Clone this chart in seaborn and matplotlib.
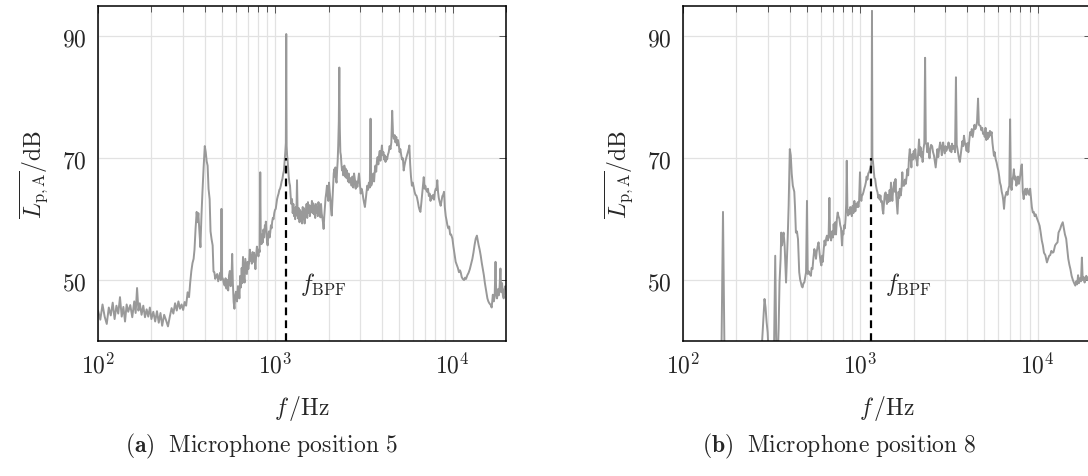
import numpy as np
import pandas as pd
import seaborn as sns
import matplotlib
matplotlib.use('Agg')
import matplotlib.pyplot as plt
from matplotlib.ticker import LogLocator, NullFormatter

# spectrum, microphone position 5  (f in Hz, level in dB(A))
freq_a = [100, 103, 106, 109, 112, 115, 118, 121, 124, 127, 130, 133, 136, 139, 142, 145, 148, 152, 156, 160,
          163, 166, 169, 172, 176, 180, 184, 188, 192, 196, 200, 205, 210, 215, 220, 225, 230, 236, 242, 248,
          254, 260, 266, 272, 278, 284, 290, 296, 302, 308, 314, 320, 326, 331, 336, 341, 346, 350, 355, 360,
          364, 368, 373, 378, 383, 388, 394, 400, 405, 410, 415, 420, 426, 431, 437, 443, 448, 453, 458, 464,
          470, 476, 482, 488, 493, 497, 501, 506, 512, 518, 524, 530, 536, 542, 548, 554, 560, 566, 571, 576,
          582, 588, 594, 600, 608, 615, 621, 627, 634, 640, 646, 651, 657, 664, 671, 677, 684, 691, 698, 704,
          711, 718, 724, 730, 737, 744, 751, 758, 765, 772, 779, 787, 795, 803, 810, 816, 822, 828, 836, 843,
          850, 857, 865, 873, 880, 884, 891, 898, 905, 913, 920, 928, 936, 944, 952, 960, 968, 977, 986, 995,
          1005, 1014, 1023, 1033, 1043, 1053, 1063, 1074, 1085, 1096, 1107, 1118, 1128, 1138, 1146, 1152, 1158,
          1165, 1172, 1180, 1190, 1200, 1210, 1220, 1231, 1242, 1253, 1264, 1274, 1285, 1294, 1304, 1314, 1325,
          1336, 1347, 1358, 1369, 1380, 1392, 1403, 1415, 1427, 1439, 1451, 1463, 1475, 1487, 1500, 1513, 1527,
          1540, 1553, 1566, 1580, 1594, 1608, 1622, 1636, 1650, 1664, 1678, 1692, 1707, 1722, 1736, 1751, 1766,
          1781, 1796, 1810, 1825, 1840, 1856, 1872, 1888, 1904, 1920, 1938, 1955, 1972, 1990, 2008, 2026, 2044,
          2062, 2080, 2098, 2116, 2134, 2150, 2166, 2182, 2198, 2214, 2230, 2246, 2262, 2280, 2295, 2310, 2326,
          2342, 2360, 2378, 2396, 2414, 2432, 2450, 2470, 2490, 2510, 2530, 2549, 2570, 2590, 2610, 2630, 2662,
          2690, 2720, 2750, 2780, 2810, 2840, 2870, 2902, 2933, 2963, 2995, 3030, 3065, 3097, 3130, 3160, 3200,
          3240, 3270, 3298, 3330, 3370, 3410, 3443, 3470, 3500, 3535, 3570, 3605, 3640, 3670, 3705, 3740, 3775,
          3810, 3845, 3880, 3915, 3950, 3990, 4030, 4070, 4105, 4140, 4182, 4225, 4270, 4315, 4360, 4410, 4460,
          4510, 4560, 4610, 4658, 4710, 4760, 4810, 4860, 4915, 4970, 5020, 5070, 5130, 5180, 5240, 5295, 5350,
          5410, 5470, 5527, 5600, 5650, 5700, 5760, 5820, 5890, 5960, 6030, 6100, 6170, 6240, 6300, 6370, 6440,
          6510, 6580, 6650, 6720, 6800, 6870, 6940, 7010, 7090, 7180, 7260, 7340, 7420, 7500, 7590, 7670, 7760,
          7850, 7940, 8030, 8110, 8190, 8270, 8350, 8450, 8560, 8650, 8750, 8840, 8940, 9030, 9140, 9240, 9340,
          9450, 9560, 9680, 9800, 9970, 10100, 10250, 10400, 10550, 10700, 10850, 11000, 11100, 11250, 11400,
          11590, 11750, 11900, 12100, 12300, 12500, 12700, 12920, 13100, 13300, 13490, 13700, 13850, 14000,
          14200, 14400, 14600, 14800, 15000, 15200, 15400, 15700, 15900, 16100, 16400, 16600, 16850, 17050,
          17250, 17450, 17600, 17800, 18000, 18200, 18400, 18600, 18800, 19000, 19200, 19400, 19600, 19800, 20000]
level_a = [45.0, 43.5, 46.0, 44.0, 42.8, 45.5, 44.2, 46.3, 43.6, 45.8, 44.5, 47.2, 44.0, 45.6, 43.2, 46.0, 44.8,
           45.9, 43.9, 46.5, 44.6, 48.7, 45.0, 46.2, 44.3, 45.8, 43.9, 45.2, 44.0, 45.5, 43.6, 44.8, 43.2, 44.9,
           43.0, 44.6, 42.5, 44.3, 43.4, 42.4, 44.0, 45.4, 44.5, 46.2, 45.0, 46.5, 45.3, 46.0, 45.1, 46.4, 45.8,
           48.0, 47.2, 49.6, 51.5, 52.8, 53.5, 55.0, 58.5, 61.2, 59.5, 61.0, 58.0, 55.4, 60.5, 64.4, 68.5, 72.0,
           71.0, 69.5, 68.8, 65.0, 63.3, 58.0, 56.7, 55.7, 51.4, 51.3, 50.2, 50.7, 51.0, 49.8, 50.5, 51.2, 50.0,
           61.7, 50.5, 50.2, 49.5, 49.1, 50.3, 48.6, 50.0, 48.3, 50.8, 51.5, 49.0, 50.5, 54.3, 49.5, 46.4, 45.3,
           47.5, 48.1, 46.5, 49.0, 48.9, 47.0, 50.7, 48.8, 52.0, 49.5, 53.8, 50.6, 49.6, 53.5, 52.2, 51.0, 53.0,
           51.8, 52.8, 55.0, 53.2, 54.1, 52.7, 54.6, 53.0, 54.5, 53.4, 51.8, 54.0, 55.5, 54.8, 53.9, 55.0, 54.6,
           67.7, 56.5, 55.9, 57.5, 56.2, 58.3, 57.0, 59.0, 58.2, 59.6, 57.8, 56.2, 55.7, 57.4, 58.0, 57.0, 57.8,
           59.0, 58.5, 59.6, 60.2, 60.0, 61.0, 61.5, 61.7, 62.5, 63.3, 63.8, 64.2, 64.8, 65.0, 65.5, 66.2, 66.6,
           67.4, 68.0, 69.5, 71.0, 72.5, 90.4, 72.0, 70.5, 69.8, 68.5, 67.0, 66.0, 65.5, 63.8, 62.5, 63.3, 61.0,
           62.5, 60.5, 61.2, 60.0, 62.0, 60.6, 66.4, 60.8, 60.1, 61.8, 59.5, 61.5, 60.3, 61.2, 59.3, 62.0, 60.0,
           61.8, 59.3, 61.5, 60.8, 62.5, 60.2, 62.8, 61.0, 62.3, 60.5, 62.2, 61.2, 63.0, 61.0, 62.6, 60.8, 62.2,
           60.2, 62.5, 61.0, 62.0, 60.5, 62.8, 61.3, 62.0, 60.3, 62.5, 61.0, 60.3, 59.5, 58.4, 60.5, 62.0, 63.5,
           64.4, 65.5, 64.0, 63.0, 66.0, 64.5, 63.3, 61.5, 60.6, 63.0, 65.5, 67.5, 68.2, 67.0, 68.5, 66.5, 66.0,
           68.0, 69.5, 72.0, 76.0, 84.9, 75.0, 71.0, 70.5, 69.0, 68.0, 68.5, 67.2, 67.7, 68.8, 67.0, 68.3, 66.8,
           68.0, 67.0, 66.2, 67.5, 66.0, 66.8, 66.6, 65.5, 67.0, 65.2, 67.5, 66.5, 65.0, 66.2, 65.3, 66.5, 67.5,
           66.0, 64.2, 65.0, 64.5, 63.5, 62.8, 62.0, 63.5, 64.5, 65.5, 64.8, 66.0, 65.2, 76.5, 65.5, 65.8, 66.5,
           67.5, 66.2, 68.0, 68.8, 67.8, 69.5, 70.2, 69.0, 70.5, 71.2, 69.6, 70.8, 72.1, 70.5, 71.0, 69.8, 70.5,
           69.4, 70.2, 69.8, 70.6, 71.0, 72.0, 71.5, 72.6, 77.8, 74.0, 73.2, 73.8, 72.6, 73.5, 72.1, 73.0, 72.2,
           71.0, 71.5, 70.5, 69.8, 70.0, 68.0, 68.8, 69.5, 70.0, 70.5, 71.0, 71.5, 72.1, 69.0, 67.0, 65.5, 66.0,
           65.2, 64.5, 64.0, 63.9, 63.5, 62.8, 62.0, 61.5, 61.2, 62.5, 64.0, 65.5, 66.9, 65.0, 65.5, 64.8, 64.5,
           65.0, 63.8, 64.2, 63.0, 63.8, 63.4, 64.0, 63.2, 64.5, 65.0, 64.8, 66.4, 64.5, 63.5, 62.8, 62.2, 63.0,
           63.8, 64.0, 64.5, 62.0, 60.5, 59.8, 59.0, 58.5, 58.8, 57.5, 57.5, 56.8, 55.5, 54.3, 53.0, 52.5, 52.0,
           51.3, 51.6, 51.3, 50.5, 50.2, 50.0, 50.4, 50.2, 50.8, 51.2, 51.8, 52.6, 53.5, 54.5, 55.8, 56.8, 57.3,
           56.5, 55.8, 55.0, 54.0, 52.8, 51.8, 50.8, 49.5, 48.5, 47.0, 46.5, 46.2, 45.9, 45.5, 47.6, 46.5, 47.2,
           53.0, 48.0, 47.0, 48.5, 47.5, 49.0, 51.9, 48.0, 49.5, 47.5, 47.0, 48.5, 49.0, 48.5]

# spectrum, microphone position 8
freq_b = [100, 106, 112, 118, 124, 130, 136, 142, 148, 154, 160, 164, 168, 172, 178, 185, 192, 200, 208, 216,
          224, 232, 240, 248, 256, 264, 272, 278, 283, 288, 292, 296, 300, 304, 310, 318, 326, 331, 336, 341,
          346, 350, 355, 358, 362, 365, 369, 374, 381, 389, 394, 400, 405, 410, 416, 424, 428, 433, 439, 445,
          452, 458, 462, 467, 472, 478, 483, 489, 494, 500, 505, 510, 517, 526, 531, 537, 543, 550, 557, 562,
          567, 574, 581, 588, 596, 603, 609, 614, 621, 628, 635, 642, 648, 655, 662, 669, 675, 684, 692, 700,
          707, 714, 722, 729, 737, 745, 752, 761, 770, 778, 788, 795, 802, 810, 818, 825, 832, 838, 845, 852,
          860, 868, 877, 886, 895, 905, 914, 925, 937, 948, 957, 966, 975, 984, 995, 1005, 1013, 1021, 1030,
          1040, 1052, 1064, 1075, 1085, 1096, 1108, 1123, 1140, 1150, 1157, 1163, 1169, 1178, 1190, 1200, 1212,
          1225, 1238, 1250, 1262, 1275, 1286, 1298, 1310, 1322, 1335, 1347, 1358, 1372, 1388, 1400, 1412, 1425,
          1438, 1450, 1463, 1475, 1488, 1502, 1515, 1528, 1540, 1553, 1566, 1578, 1592, 1606, 1620, 1628, 1642,
          1656, 1670, 1690, 1706, 1724, 1742, 1765, 1785, 1805, 1825, 1843, 1860, 1880, 1900, 1920, 1940, 1955,
          1968, 1985, 2000, 2020, 2040, 2060, 2080, 2096, 2115, 2143, 2165, 2185, 2205, 2225, 2245, 2270, 2295,
          2318, 2340, 2365, 2383, 2405, 2430, 2455, 2480, 2505, 2540, 2570, 2600, 2630, 2660, 2690, 2720, 2750,
          2790, 2820, 2850, 2880, 2910, 2930, 2960, 2990, 3020, 3050, 3090, 3120, 3143, 3170, 3200, 3230, 3260,
          3290, 3320, 3355, 3385, 3420, 3460, 3495, 3530, 3560, 3600, 3641, 3680, 3720, 3760, 3800, 3840, 3889,
          3930, 3975, 4020, 4065, 4110, 4160, 4210, 4250, 4300, 4350, 4400, 4450, 4500, 4550, 4610, 4660, 4700,
          4760, 4810, 4870, 4920, 4974, 5030, 5080, 5130, 5190, 5240, 5275, 5330, 5380, 5440, 5500, 5560, 5610,
          5667, 5720, 5790, 5867, 5940, 6000, 6070, 6130, 6200, 6270, 6340, 6400, 6460, 6530, 6600, 6680, 6760,
          6840, 6920, 6990, 7060, 7130, 7200, 7270, 7340, 7420, 7500, 7580, 7660, 7750, 7830, 7920, 8000, 8080,
          8150, 8240, 8340, 8430, 8530, 8630, 8740, 8850, 8950, 9070, 9140, 9270, 9390, 9500, 9620, 9740, 9920,
          10100, 10260, 10400, 10550, 10700, 10850, 11050, 11280, 11450, 11620, 11770, 11950, 12150, 12290,
          12540, 12750, 12940, 13110, 13400, 13600, 13850, 14050, 14250, 14480, 14700, 14880, 15100, 15300,
          15540, 15800, 16000, 16300, 16500, 16700, 16900, 17100, 17300, 17550, 17760, 17950, 18150, 18400,
          18600, 18800, 19000, 19300, 19600, 20000]
level_b = [34.0, 32.5, 35.0, 33.0, 31.5, 34.5, 32.0, 35.5, 33.0, 31.0, 34.0, 33.5, 61.2, 33.0, 35.0, 32.5, 36.0,
           33.5, 35.0, 32.8, 36.5, 34.0, 37.0, 35.5, 38.0, 36.5, 37.5, 39.0, 43.0, 46.9, 45.5, 43.1, 41.4, 38.0,
           36.0, 37.5, 39.0, 54.0, 38.5, 36.0, 42.0, 49.6, 53.5, 57.8, 55.7, 57.0, 57.8, 55.7, 49.6, 56.7, 62.2,
           71.5, 70.5, 67.5, 65.5, 64.5, 62.0, 57.8, 58.0, 56.7, 51.3, 50.0, 49.6, 49.0, 48.8, 49.5, 49.6, 50.5,
           51.3, 63.0, 51.0, 51.5, 51.0, 50.7, 52.0, 51.8, 53.5, 55.1, 54.5, 53.5, 54.6, 55.5, 56.2, 54.6, 53.0,
           52.4, 54.0, 53.0, 55.0, 56.5, 55.7, 56.9, 57.3, 56.5, 57.0, 63.5, 57.5, 56.5, 58.0, 57.0, 59.2, 57.5,
           59.5, 57.5, 60.0, 61.1, 60.5, 60.1, 59.0, 58.5, 55.7, 58.0, 57.5, 59.0, 58.5, 60.0, 62.5, 69.6, 62.0,
           60.6, 61.5, 60.8, 62.0, 61.7, 60.5, 62.2, 61.0, 63.0, 61.3, 62.5, 62.0, 62.8, 62.0, 63.0, 67.7, 63.5,
           63.0, 63.9, 64.0, 64.4, 65.0, 65.5, 66.1, 67.0, 66.5, 67.5, 67.8, 68.5, 69.0, 70.0, 94.2, 70.0, 69.5,
           68.0, 66.8, 66.6, 65.5, 64.8, 64.4, 63.5, 64.0, 63.2, 63.9, 62.8, 63.0, 61.5, 60.9, 62.5, 64.0, 64.4,
           63.3, 62.5, 64.0, 62.8, 63.5, 64.8, 63.0, 66.0, 64.5, 63.0, 64.5, 65.2, 66.1, 64.5, 66.6, 64.0, 62.5,
           60.9, 62.2, 64.5, 63.5, 65.0, 63.9, 65.0, 67.7, 65.5, 65.5, 66.5, 65.8, 67.0, 68.2, 67.2, 70.0, 71.5,
           70.2, 68.5, 70.5, 70.7, 69.8, 71.2, 70.0, 71.5, 70.0, 69.5, 68.8, 70.5, 73.1, 70.5, 71.8, 70.2, 71.0,
           69.4, 71.5, 72.5, 86.5, 72.5, 72.2, 71.0, 72.5, 71.0, 70.0, 71.5, 72.2, 72.0, 71.0, 70.5, 69.5, 68.5,
           70.0, 71.5, 70.2, 71.8, 72.6, 71.8, 70.5, 72.0, 72.6, 71.5, 70.8, 72.0, 71.2, 71.6, 72.0, 72.6, 71.8,
           71.2, 72.0, 71.0, 72.4, 71.5, 72.0, 72.0, 71.0, 83.3, 72.2, 71.5, 70.8, 69.9, 69.4, 70.5, 71.5, 72.8,
           72.0, 73.7, 72.5, 72.0, 71.2, 72.5, 71.0, 72.8, 74.3, 73.8, 74.8, 73.5, 74.5, 75.5, 74.8, 75.2, 76.0,
           79.8, 75.5, 75.4, 75.3, 74.6, 75.0, 74.0, 74.2, 73.5, 75.0, 73.0, 74.2, 73.2, 74.2, 73.5, 74.5, 73.8,
           74.3, 72.5, 71.5, 70.4, 71.0, 69.9, 69.3, 68.5, 68.0, 67.0, 66.0, 65.5, 64.5, 63.9, 63.0, 61.7, 63.5,
           64.0, 64.5, 64.0, 65.0, 65.5, 76.4, 65.5, 64.8, 66.5, 67.0, 68.2, 66.5, 67.0, 65.5, 66.0, 67.0, 65.8,
           66.5, 67.5, 68.8, 69.0, 64.5, 63.3, 64.5, 65.0, 64.0, 65.0, 64.5, 64.0, 65.0, 64.0, 62.0, 61.1, 61.2,
           60.5, 60.8, 60.1, 59.5, 58.9, 57.8, 56.5, 55.7, 54.5, 54.1, 52.9, 53.5, 54.0, 54.1, 54.8, 54.5, 54.6,
           55.7, 56.0, 56.2, 57.8, 58.4, 59.0, 59.5, 58.5, 57.5, 56.8, 55.0, 53.5, 52.5, 51.8, 50.7, 50.0, 49.6,
           49.1, 49.8, 49.3, 50.8, 49.5, 50.3, 49.8, 53.7, 50.0, 50.5, 49.6, 50.4, 50.7, 50.0, 50.5, 49.8, 50.2]

bpf = 1150          # blade passing frequency, Hz
bpf_level = 70.0    # top of the marker line, dB
xticks = [1e2, 1e3, 1e4]
xtick_labels = [r'$10^{2}$', r'$10^{3}$', r'$10^{4}$']
yticks = [50, 70, 90]
ytick_labels = [r'$50$', r'$70$', r'$90$']
captions = [r'$\mathbf{(a)}\ \ \mathrm{Microphone\ position\ 5}$',
            r'$\mathbf{(b)}\ \ \mathrm{Microphone\ position\ 8}$']

sns.set_style('white')
plt.rcParams['mathtext.fontset'] = 'cm'
plt.rcParams['font.family'] = ['DejaVu Serif']
fs = 17

fig = plt.figure(figsize=(10.88, 4.77), dpi=100)
ax_a = fig.add_axes([0.0901, 0.283, 0.375, 0.7023])
ax_b = fig.add_axes([0.6278, 0.283, 0.375, 0.7023])

panels = [(ax_a, freq_a, level_a, captions[0], 0.24), (ax_b, freq_b, level_b, captions[1], 0.771)]
for ax, f, L, cap, cx in panels:
    df = pd.DataFrame({'f': f, 'L': L})
    sns.lineplot(data=df, x='f', y='L', ax=ax, color='#999999', lw=1.4, estimator=None, sort=False)
    ax.set_xscale('log')
    ax.set_xlim(100, 20000)
    ax.set_ylim(40, 95)

    ax.vlines(bpf, 40, bpf_level, colors='black', linestyles=(0, (3.5, 2.3)), lw=1.6, zorder=3)
    ax.annotate(r'$f_{\mathrm{BPF}}$', xy=(bpf, 49.4), xytext=(10, 0), textcoords='offset points',
                va='center', ha='left', fontsize=fs)

    ax.set_xticks(xticks)
    ax.set_xticklabels(xtick_labels, fontsize=fs)
    ax.xaxis.set_minor_locator(LogLocator(base=10, subs=np.arange(2, 10)))
    ax.xaxis.set_minor_formatter(NullFormatter())
    ax.set_yticks(yticks)
    ax.set_yticklabels(ytick_labels, fontsize=fs)

    ax.grid(True, which='both', axis='x', color='#e2e2e2', lw=0.9)
    ax.grid(True, which='major', axis='y', color='#e2e2e2', lw=0.9)
    ax.set_axisbelow(True)

    ax.tick_params(which='both', direction='in', top=True, right=True, color='#555555', width=0.7)
    ax.tick_params(which='major', length=5, pad=8)
    ax.tick_params(which='minor', length=4)
    for s in ax.spines.values():
        s.set_color('black')
        s.set_linewidth(1.1)

    ax.set_xlabel(r'$f\,/\mathrm{Hz}$', fontsize=fs, labelpad=11)
    ax.set_ylabel(r'$\overline{L_{\mathrm{p,A}}}/\mathrm{dB}$', fontsize=fs, labelpad=9)
    fig.text(cx, 0.063, cap, ha='center', va='center', fontsize=fs)

fig.savefig('out.png', dpi=100)
